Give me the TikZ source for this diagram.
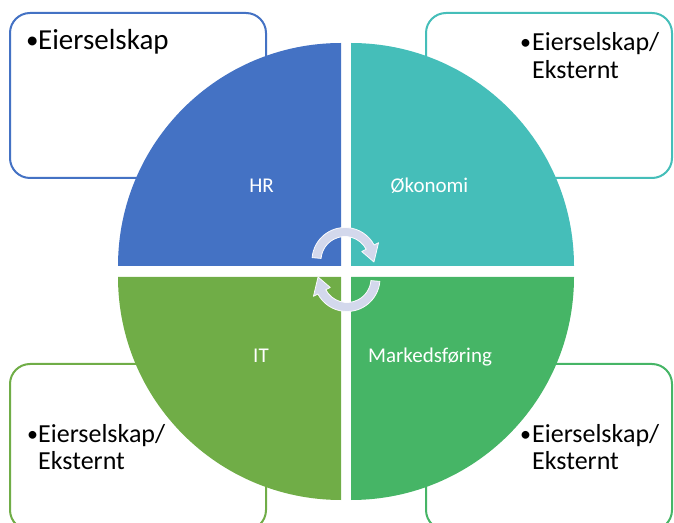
\documentclass[tikz,border=0pt]{standalone}
\usepackage{fontspec}
\setmainfont{Carlito}
\usetikzlibrary{calc}
\definecolor{hrblue}{HTML}{4472C4}
\definecolor{ecoteal}{HTML}{45BEB9}
\definecolor{itgreen}{HTML}{70AD47}
\definecolor{mkgreen}{HTML}{46B566}
\definecolor{arrowfill}{HTML}{D3D8EC}
\begin{document}
\begin{tikzpicture}[x=1pt,y=1pt,
  infobox/.style={line width=2pt, rounded corners=20pt, fill=white},
  bullettext/.style={anchor=base west, inner sep=0pt, text=black},
  bigtext/.style={bullettext, font=\fontsize{29}{32}\selectfont},
  boxtext/.style={bullettext, font=\fontsize{26}{28}\selectfont},
  bigdot/.style={bullettext, font=\fontsize{25}{28}\selectfont},
  smalldot/.style={bullettext, font=\fontsize{22}{26}\selectfont},
  qlabel/.style={anchor=base, inner sep=0pt, text=white, font=\fontsize{21}{24}\selectfont},
  cycarrow/.style={fill=arrowfill, draw=white!90!arrowfill, line width=0.8pt, line join=round}]
\useasboundingbox (0,0) rectangle (674,522);
\clip (0,0) rectangle (674,522);

% rounded text boxes behind the circle
\draw[infobox, draw=hrblue]  (10,344) rectangle (266,509);
\draw[infobox, draw=ecoteal] (426,344) rectangle (672,509);
\draw[infobox, draw=itgreen] (10,-8) rectangle (266,158);
\draw[infobox, draw=mkgreen] (426,-8) rectangle (672,158);

% four quarter-circle segments
\fill[hrblue]  (341,256) -- (118,256) arc[start angle=180, end angle=90, radius=223] -- cycle;
\fill[ecoteal] (351,256) -- (351,479) arc[start angle=90, end angle=0, radius=223] -- cycle;
\fill[itgreen] (341,245) -- (341,22) arc[start angle=270, end angle=180, radius=223] -- cycle;
\fill[mkgreen] (351,245) -- (574,245) arc[start angle=0, end angle=-90, radius=223] -- cycle;

% segment labels
\node[qlabel] (hr)   at (261.5,329) {HR};
\node[qlabel] (oko)  at (429.5,329) {Økonomi};
\node[qlabel] (it)   at (261,159)   {IT};
\node[qlabel] (mark) at (430,159)   {Markedsføring};

% box contents
\node[bigdot]  (b1) at (26,473) {•};
\node[bigtext] (t1) at (38,472) {Eierselskap};

\node[smalldot] (b2)  at (520,472)   {•};
\node[boxtext]  (t2a) at (532,471)   {Eierselskap/};
\node[boxtext]  (t2b) at (532,443.5) {Eksternt};

\node[smalldot] (b3)  at (27,81)   {•};
\node[boxtext]  (t3a) at (38,80)   {Eierselskap/};
\node[boxtext]  (t3b) at (38,52.5) {Eksternt};

\node[smalldot] (b4)  at (520,81)   {•};
\node[boxtext]  (t4a) at (532,80)   {Eierselskap/};
\node[boxtext]  (t4b) at (532,52.5) {Eksternt};

% circular arrows in the centre
\coordinate (c1) at (345,261.5);
\coordinate (c2) at (347,243.5);
\draw[cycarrow] ($(c1)+(175:33)$) arc[start angle=175, end angle=28, radius=33]
  -- ($(c1)+(28:38)$) -- ($(c1)+(-3:29)$) -- ($(c1)+(28:19)$) -- ($(c1)+(28:24)$)
  arc[start angle=28, end angle=175, radius=24] -- cycle;
\draw[cycarrow] ($(c2)+(-5:33)$) arc[start angle=-5, end angle=-152, radius=33]
  -- ($(c2)+(-152:38)$) -- ($(c2)+(-183:29)$) -- ($(c2)+(-152:19)$) -- ($(c2)+(-152:24)$)
  arc[start angle=-152, end angle=-5, radius=24] -- cycle;
\end{tikzpicture}
\end{document}
